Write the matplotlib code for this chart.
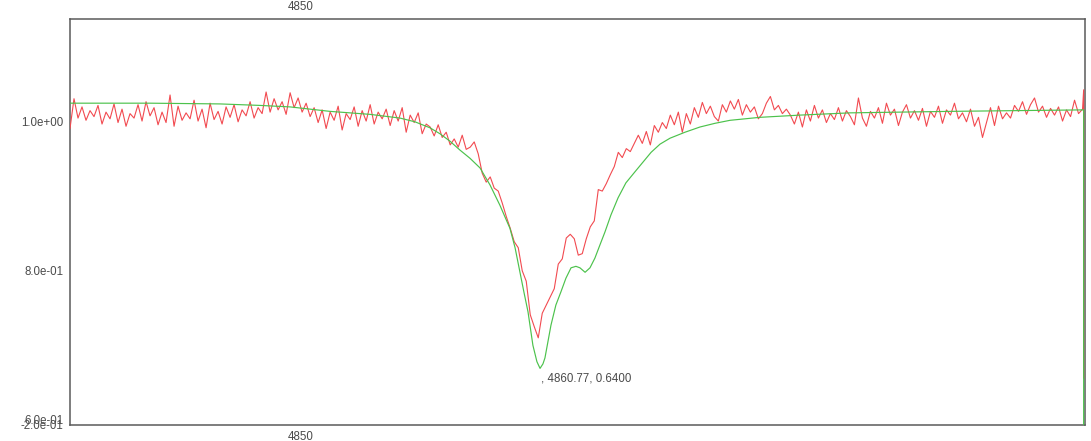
import numpy as np
import matplotlib
matplotlib.use("Agg")
import matplotlib.pyplot as plt

# ---- data ----
obs_start, obs_end = 4839.64, 4885.05
obs_flux = [
    0.990, 1.030, 1.004, 1.019, 1.001, 1.014, 1.006, 1.021, 0.996, 1.012,
    1.003, 1.023, 0.998, 1.016, 0.993, 1.010, 1.004, 1.022, 1.000, 1.026,
    1.007, 1.018, 0.995, 1.012, 0.998, 1.035, 0.993, 1.020, 1.001, 1.011,
    1.003, 1.028, 1.000, 1.016, 0.991, 1.024, 1.002, 1.013, 0.996, 1.019,
    1.005, 1.022, 0.999, 1.015, 1.007, 1.026, 1.004, 1.018, 1.010, 1.039,
    1.012, 1.030, 1.015, 1.026, 1.009, 1.038, 1.018, 1.031, 1.012, 1.024,
    1.006, 1.018, 0.998, 1.015, 0.990, 1.012, 1.001, 1.020, 0.988, 1.010,
    1.002, 1.019, 0.993, 1.014, 1.000, 1.022, 0.996, 1.012, 1.003, 1.016,
    0.994, 1.014, 1.000, 1.018, 0.985, 1.008, 0.998, 1.011, 0.983, 0.996,
    0.992, 0.980, 0.995, 0.978, 0.985, 0.968, 0.976, 0.965, 0.981, 0.962,
    0.965, 0.972, 0.956, 0.930, 0.918, 0.925, 0.910, 0.906, 0.890, 0.872,
    0.856, 0.838, 0.830, 0.799, 0.785, 0.740, 0.724, 0.709, 0.742, 0.753,
    0.764, 0.775, 0.808, 0.815, 0.843, 0.848, 0.842, 0.820, 0.822, 0.842,
    0.858, 0.866, 0.908, 0.906, 0.916, 0.928, 0.939, 0.958, 0.951, 0.963,
    0.959, 0.970, 0.981, 0.970, 0.986, 0.968, 0.994, 0.985, 0.998, 0.990,
    1.008, 0.995, 1.012, 0.985, 1.010, 0.996, 1.018, 1.005, 1.025, 1.010,
    1.020, 1.006, 1.000, 1.022, 1.012, 1.027, 1.016, 1.029, 1.008, 1.022,
    1.012, 1.019, 1.003, 1.010, 1.024, 1.033, 1.015, 1.021, 1.010, 1.016,
    1.008, 0.996, 1.012, 0.992, 1.015, 1.000, 1.021, 1.004, 1.015, 0.998,
    1.010, 1.002, 1.018, 1.000, 1.014, 1.006, 0.995, 1.031, 1.004, 0.993,
    1.013, 1.004, 1.018, 0.997, 1.024, 1.008, 1.016, 0.994, 1.012, 1.022,
    1.004, 1.014, 1.001, 1.017, 0.993, 1.013, 1.005, 1.020, 0.997, 1.015,
    1.008, 1.024, 1.003, 1.011, 0.999, 1.016, 0.993, 1.005, 0.978, 0.998,
    1.018, 0.994, 1.020, 1.003, 1.011, 1.004, 1.021, 1.013, 1.026, 1.009,
    1.022, 1.031, 1.012, 1.020, 1.005, 1.017, 1.008, 1.019, 1.000, 1.015,
    1.006, 1.028, 1.010, 1.016,
]
obs_edge_wave = 4885.10
obs_edge_flux = [1.042, 0.655]   # vertical stroke at the right border

model_wave = [
    4839.64, 4843.23, 4846.37, 4848.16, 4849.51, 4851.30, 4853.09, 4854.44,
    4855.11, 4855.78, 4856.23, 4856.68, 4857.13, 4857.58, 4858.03, 4858.48,
    4858.92, 4859.37, 4859.60, 4859.82, 4860.00, 4860.18, 4860.40, 4860.58,
    4860.72, 4860.85, 4860.94, 4861.21, 4861.43, 4861.66, 4861.88, 4862.11,
    4862.33, 4862.51, 4862.74, 4862.96, 4863.18, 4863.41, 4863.63, 4863.90,
    4864.22, 4864.57, 4864.98, 4865.34, 4865.70, 4866.10, 4866.55, 4867.22,
    4867.89, 4868.57, 4869.24, 4870.58, 4872.38, 4874.62, 4879.10, 4885.07,
    4885.10, 4885.10,
]
model_flux = [
    1.024, 1.024, 1.023, 1.021, 1.019, 1.013, 1.009, 1.004,
    0.999, 0.991, 0.983, 0.973, 0.961, 0.950, 0.937, 0.914,
    0.887, 0.856, 0.830, 0.797, 0.770, 0.744, 0.699, 0.677,
    0.668, 0.674, 0.682, 0.726, 0.753, 0.771, 0.789, 0.803,
    0.805, 0.803, 0.797, 0.803, 0.816, 0.834, 0.851, 0.874,
    0.897, 0.917, 0.932, 0.945, 0.958, 0.969, 0.977, 0.985,
    0.992, 0.997, 1.001, 1.005, 1.008, 1.011, 1.013, 1.015,
    1.015, 0.500,
]

x_limits = (4839.64, 4885.16)
y_limits = (0.592, 1.137)
x_ticks = [4850]
x_tick_labels = ["4850"]
y_ticks = [0.592, 0.6, 0.8, 1.0]
y_tick_labels = ["-2.0e-01", "6.0e-01", "8.0e-01", "1.0e+00"]
cursor_wave, cursor_flux = 4860.77, 0.6400
cursor_label = ", 4860.77, 0.6400"

# ---- figure ----
fig = plt.figure(figsize=(10.91, 4.41), dpi=100)
ax = fig.add_axes([70 / 1091, 16 / 441, 1015 / 1091, 406 / 441])

obs_wave = np.linspace(obs_start, obs_end, len(obs_flux))
ow = np.concatenate([obs_wave, [obs_edge_wave] * len(obs_edge_flux)])
of = np.concatenate([obs_flux, obs_edge_flux])

ax.plot(ow, of, color="#f24a50", lw=0.8, solid_joinstyle="round", zorder=3)
ax.plot(model_wave, model_flux, color="#4cc24c", lw=0.85, zorder=3)

ax.set_xlim(*x_limits)
ax.set_ylim(*y_limits)
ax.set_xticks(x_ticks)
ax.set_xticklabels(x_tick_labels)
ax.set_yticks(y_ticks)
ax.set_yticklabels(y_tick_labels)

ax.tick_params(axis="both", length=0, labelsize=8.3, labelcolor="#4a4a4a",
               labelfontfamily="Liberation Sans")
ax.tick_params(axis="x", top=True, labeltop=True, pad=4)
ax.tick_params(axis="y", pad=5)

for s in ax.spines.values():
    s.set_color("#5a5a5a")
    s.set_linewidth(1.1)
    s.set_zorder(2)

ax.annotate(cursor_label, xy=(cursor_wave, cursor_flux), xytext=(0, 8),
            textcoords="offset points", ha="left", va="center",
            fontsize=8.3, color="#4a4a4a", family="Liberation Sans")

fig.savefig("out.png", dpi=100)
